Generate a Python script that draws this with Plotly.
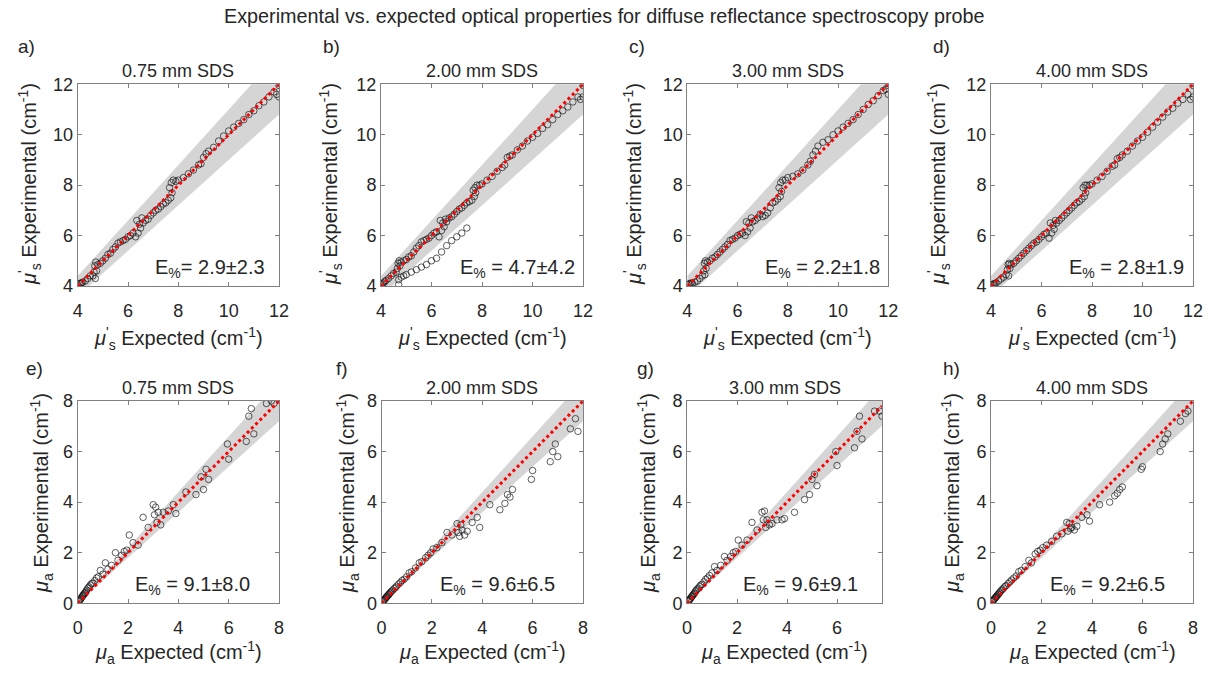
import plotly.graph_objects as go

# ---- data: expected vs experimental optical properties ----
sds_labels = ["0.75 mm SDS", "2.00 mm SDS", "3.00 mm SDS", "4.00 mm SDS"]
panel_letters_top = ["a)", "b)", "c)", "d)"]
panel_letters_bot = ["e)", "f)", "g)", "h)"]
err_mus = ["2.9\u00b12.3", "4.7\u00b14.2", "2.2\u00b11.8", "2.8\u00b11.9"]
err_mua = ["9.1\u00b18.0", "9.6\u00b16.5", "9.6\u00b19.1", "9.2\u00b16.5"]

mus_expected = [4.0, 4.05, 4.1, 4.15, 4.2, 4.3, 4.4, 4.5, 4.6, 4.65, 4.68, 4.7, 4.72, 4.75, 4.8, 4.9,
                5.0, 5.1, 5.2, 5.3, 5.4, 5.5, 5.6, 5.7, 5.8, 5.9, 6.0, 6.1, 6.2, 6.3, 6.35, 6.4,
                6.45, 6.5, 6.55, 6.6, 6.7, 6.8, 6.9, 7.0, 7.1, 7.2, 7.3, 7.4, 7.5, 7.6, 7.65, 7.7,
                7.72, 7.75, 7.8, 7.9, 8.0, 8.2, 8.4, 8.6, 8.8, 8.9, 9.0, 9.1, 9.2, 9.4, 9.6, 9.8,
                10.0, 10.2, 10.4, 10.6, 10.8, 11.0, 11.2, 11.4, 11.6, 11.8, 11.9, 12.0, 12.0]

mus_exp_075 = [4.05, 4.1, 4.1, 4.12, 4.15, 4.2, 4.3, 4.4, 4.4, 4.55, 4.8, 4.3, 4.95, 4.6, 4.85, 4.9,
               5.0, 5.1, 5.25, 5.3, 5.45, 5.55, 5.7, 5.75, 5.8, 5.85, 5.95, 6.0, 6.1, 5.95, 6.6, 6.1,
               6.45, 6.3, 6.7, 6.5, 6.6, 6.65, 6.8, 6.9, 7.0, 7.05, 7.15, 7.25, 7.3, 7.4, 7.9, 7.5,
               8.1, 7.7, 8.2, 8.15, 8.2, 8.3, 8.45, 8.6, 8.8, 8.85, 9.1, 9.25, 9.35, 9.5, 9.75, 9.95,
               10.15, 10.3, 10.45, 10.6, 10.8, 10.95, 11.15, 11.3, 11.5, 11.7, 11.6, 11.95, 11.5]
mus_exp_200 = [4.05, 4.08, 4.12, 4.18, 4.22, 4.3, 4.4, 4.5, 4.55, 4.7, 4.9, 4.05, 5.0, 4.8, 4.95, 5.0,
               5.05, 5.15, 5.2, 5.35, 5.5, 5.6, 5.75, 5.8, 5.85, 5.9, 6.0, 6.1, 6.15, 5.95, 6.6, 6.2,
               6.5, 6.35, 6.65, 6.55, 6.7, 6.75, 6.85, 6.95, 7.05, 7.1, 7.2, 7.3, 7.35, 7.4, 7.8, 7.55,
               7.9, 7.7, 8.0, 8.0, 8.05, 8.2, 8.35, 8.55, 8.7, 8.8, 9.1, 9.15, 9.2, 9.4, 9.55, 9.75,
               9.9, 10.05, 10.25, 10.4, 10.6, 10.8, 10.95, 11.1, 11.3, 11.5, 11.4, 11.95, 11.5]
mus_exp_300 = [4.05, 4.07, 4.1, 4.12, 4.1, 4.15, 4.2, 4.3, 4.4, 4.6, 4.9, 4.45, 5.0, 4.7, 4.95, 5.0,
               5.1, 5.15, 5.25, 5.35, 5.45, 5.55, 5.65, 5.8, 5.85, 5.9, 6.0, 6.05, 6.1, 6.0, 6.55, 6.15,
               6.5, 6.3, 6.7, 6.55, 6.6, 6.7, 6.85, 6.75, 6.8, 6.9, 7.1, 7.3, 7.35, 7.45, 7.9, 7.55,
               8.1, 7.75, 8.2, 8.2, 8.3, 8.35, 8.45, 8.6, 8.8, 8.95, 9.2, 9.35, 9.55, 9.7, 9.8, 10.0,
               10.15, 10.3, 10.45, 10.6, 10.8, 11.0, 11.2, 11.35, 11.55, 11.75, 11.8, 11.95, 11.6]
mus_exp_400 = [4.05, 4.05, 4.08, 4.1, 4.12, 4.2, 4.28, 4.35, 4.45, 4.65, 4.85, 4.4, 4.9, 4.7, 4.85, 4.9,
               5.0, 5.1, 5.2, 5.3, 5.4, 5.5, 5.6, 5.7, 5.75, 5.85, 5.95, 6.05, 6.1, 5.9, 6.5, 6.1,
               6.4, 6.25, 6.6, 6.5, 6.6, 6.7, 6.8, 6.9, 7.0, 7.1, 7.2, 7.3, 7.35, 7.45, 7.9, 7.55,
               8.0, 7.7, 8.0, 8.0, 8.05, 8.2, 8.35, 8.55, 8.75, 8.8, 9.05, 9.1, 9.2, 9.35, 9.55, 9.75,
               9.9, 10.1, 10.3, 10.5, 10.7, 10.9, 11.05, 11.25, 11.4, 11.6, 11.4, 11.95, 11.5]

# the 2.00 mm probe has a separate low branch of points
mus_expected_200_low = [4.7, 4.8, 4.9, 5.0, 5.2, 5.4, 5.6, 5.8, 6.0, 6.2, 6.4, 6.6, 6.8, 7.0, 7.2, 7.4]
mus_exp_200_low = [4.25, 4.35, 4.4, 4.45, 4.55, 4.65, 4.75, 4.85, 5.0, 5.1, 5.35, 5.6, 5.8, 5.95, 6.1, 6.3]

mua_expected = [0.05, 0.08, 0.1, 0.12, 0.15, 0.18, 0.2, 0.22, 0.25, 0.28, 0.3, 0.33, 0.36, 0.4, 0.45,
                0.5, 0.55, 0.6, 0.68, 0.75, 0.82, 0.9, 1.0, 1.1, 1.2, 1.35, 1.5, 1.6, 1.75, 1.85,
                1.95, 2.05, 2.2, 2.4, 2.6, 2.8, 3.0, 3.05, 3.1, 3.15, 3.2, 3.3, 3.4, 3.6, 3.8,
                3.9, 4.3, 4.7, 4.9, 5.0, 5.1, 5.2, 5.95, 6.0, 6.7, 6.8, 6.9, 7.0, 7.5, 7.7, 7.8]

mua_exp_075 = [0.08, 0.12, 0.15, 0.18, 0.22, 0.26, 0.3, 0.33, 0.36, 0.4, 0.42, 0.48, 0.52, 0.6, 0.65,
               0.72, 0.78, 0.8, 0.9, 1.0, 1.05, 1.3, 1.15, 1.6, 1.35, 1.5, 2.0, 1.7, 1.9, 2.05,
               2.1, 2.7, 2.4, 2.3, 3.4, 3.0, 3.9, 3.5, 3.8, 3.2, 3.6, 3.1, 3.6, 3.65, 3.9,
               3.55, 4.4, 4.3, 5.0, 4.5, 5.3, 4.9, 6.3, 5.7, 6.4, 7.4, 7.7, 6.7, 7.9, 8.0, 7.9]
mua_exp_200 = [0.07, 0.1, 0.13, 0.15, 0.19, 0.22, 0.25, 0.28, 0.3, 0.34, 0.36, 0.4, 0.44, 0.48, 0.52,
               0.58, 0.62, 0.68, 0.76, 0.82, 0.9, 0.95, 1.05, 1.2, 1.25, 1.4, 1.6, 1.65, 1.8, 1.9,
               2.0, 2.15, 2.2, 2.4, 2.8, 2.7, 3.15, 2.8, 2.65, 3.1, 2.9, 2.7, 2.85, 3.2, 3.4,
               3.0, 3.9, 3.7, 3.95, 4.3, 4.2, 4.5, 4.9, 5.25, 5.6, 6.0, 6.3, 5.8, 6.9, 7.3, 6.8]
mua_exp_300 = [0.08, 0.11, 0.14, 0.17, 0.2, 0.25, 0.28, 0.3, 0.34, 0.38, 0.4, 0.46, 0.5, 0.55, 0.6,
               0.66, 0.72, 0.75, 0.85, 0.95, 1.0, 1.1, 1.2, 1.45, 1.3, 1.5, 1.85, 1.7, 1.85, 2.0,
               2.05, 2.5, 2.3, 2.5, 3.2, 2.9, 3.6, 3.3, 3.65, 3.0, 3.3, 3.1, 3.15, 3.3, 3.3,
               3.35, 3.6, 4.1, 4.3, 4.9, 5.1, 4.65, 6.0, 5.45, 6.15, 6.8, 7.4, 6.5, 7.6, 7.6, 7.4]
mua_exp_400 = [0.07, 0.1, 0.13, 0.16, 0.19, 0.23, 0.25, 0.28, 0.31, 0.35, 0.37, 0.41, 0.45, 0.5, 0.55,
               0.6, 0.66, 0.7, 0.78, 0.85, 0.92, 1.0, 1.08, 1.25, 1.3, 1.45, 1.7, 1.6, 1.95, 2.05,
               2.1, 2.2, 2.3, 2.45, 2.65, 2.75, 3.2, 2.85, 3.15, 2.95, 3.0, 2.9, 3.05, 3.4, 3.5,
               3.25, 3.9, 4.0, 4.25, 4.35, 4.5, 4.6, 5.3, 5.4, 6.0, 6.3, 6.5, 6.7, 7.2, 7.5, 7.6]

mus_series = [mus_exp_075, mus_exp_200, mus_exp_300, mus_exp_400]
mua_series = [mua_exp_075, mua_exp_200, mua_exp_300, mua_exp_400]

mus_range = [4, 12]
mua_ranges = [[0, 8], [0, 8], [0, 7.8], [0, 8]]
band_frac = 0.10

# ---- layout geometry (pixels) ----
W, H = 1210, 674
col_x = [(77.7, 279), (381, 583), (687.3, 888.3), (991, 1193)]
col_x_bot = [(77.7, 279), (381.5, 583), (687, 882), (991, 1193)]
row_top = (84.3, 286)
row_bot = (401, 603.3)

FONT = "Liberation Sans, Arial, sans-serif"
TXT = "#262626"
AXC = "#808080"

fig = go.Figure()
annotations = []


def add_panel(idx, xs, ys, rng_x, rng_y, xpix, ypix, extra=None):
    ax = "" if idx == 1 else str(idx)
    xa, ya = "x" + ax, "y" + ax
    lo, hi = rng_x
    # +/- 10 % band around identity
    fig.add_trace(go.Scatter(
        x=[lo, hi, hi, lo], y=[lo * (1 + band_frac), hi * (1 + band_frac), hi * (1 - band_frac), lo * (1 - band_frac)],
        fill="toself", fillcolor="#d5d5d5", line=dict(width=0), mode="lines",
        hoverinfo="skip", showlegend=False, xaxis=xa, yaxis=ya))
    sets = [(xs, ys)] + ([extra] if extra else [])
    for sx, sy in sets:
        fig.add_trace(go.Scatter(
            x=sx, y=sy, mode="markers",
            marker=dict(symbol="circle-open", size=6.5, color="rgba(20,20,20,0.85)", line=dict(width=0.8)),
            showlegend=False, xaxis=xa, yaxis=ya))
    fig.add_trace(go.Scatter(
        x=[lo, hi], y=[lo, hi], mode="lines",
        line=dict(color="#ff0000", width=3, dash="dot"),
        showlegend=False, xaxis=xa, yaxis=ya))
    common = dict(showline=True, mirror="ticks", linecolor=AXC, linewidth=1,
                  ticks="inside", ticklen=4, tickcolor=AXC, showgrid=False, zeroline=False,
                  automargin=False, tickfont=dict(family=FONT, size=18, color=TXT), fixedrange=True)
    fig.layout["xaxis" + ax] = dict(domain=[xpix[0] / W, xpix[1] / W], range=rng_x, anchor=ya,
                                   dtick=2, ticklabelstandoff=8, **common)
    fig.layout["yaxis" + ax] = dict(domain=[1 - ypix[1] / H, 1 - ypix[0] / H], range=rng_y, anchor=xa,
                                   dtick=2, ticklabelstandoff=0, **common)


for i in range(4):
    extra = (mus_expected_200_low, mus_exp_200_low) if i == 1 else None
    add_panel(i + 1, mus_expected, mus_series[i], mus_range, mus_range, col_x[i], row_top, extra)
    add_panel(i + 5, mua_expected, mua_series[i], mua_ranges[i], [0, 8], col_x_bot[i], row_bot)


def ann(text, px, py, size, angle=0, xanchor="center"):
    annotations.append(dict(text=text, x=px / W, y=1 - py / H, xref="paper", yref="paper",
                            showarrow=False, textangle=angle, xanchor=xanchor, yanchor="middle",
                            font=dict(family=FONT, size=size, color=TXT)))


mus_lbl = "<i>\u03bc</i><sup>'</sup><sub>s</sub>"
mua_lbl = "<i>\u03bc</i><sub>a</sub>"
letter_top_x = [26, 331, 637, 941]
letter_bot_x = [34, 342, 645, 951]
ytitle_top_x = [29, 330, 634, 938]
ytitle_bot_x = [41, 347, 648, 952]
err_right_top = [267, 577, 882, 1186]
err_right_bot = [252, 557, 860, 1167]

for i in range(4):
    cx_t = (col_x[i][0] + col_x[i][1]) / 2
    cx_b = (col_x_bot[i][0] + col_x_bot[i][1]) / 2
    ann(sds_labels[i], cx_t, 71, 18)
    ann(sds_labels[i], cx_b, 388, 18)
    ann(panel_letters_top[i], letter_top_x[i], 46, 19)
    ann(panel_letters_bot[i], letter_bot_x[i], 368, 19)
    ann(mus_lbl + " Experimental (cm<sup>-1</sup>)", ytitle_top_x[i], 184, 20, angle=-90)
    ann(mua_lbl + " Experimental (cm<sup>-1</sup>)", ytitle_bot_x[i], 493, 20, angle=-90)
    ann(mus_lbl + " Expected (cm<sup>-1</sup>)", cx_t, 338, 20)
    ann(mua_lbl + " Expected (cm<sup>-1</sup>)", cx_b, 652, 20)
    sep_top = "E<sub>%</sub>" + ("" if i == 0 else " ") + "= " + err_mus[i]
    ann(sep_top, err_right_top[i], 268, 20, xanchor="right")
    ann("E<sub>%</sub> = " + err_mua[i], err_right_bot[i], 585, 20, xanchor="right")

ann("Experimental vs. expected optical properties for diffuse reflectance spectroscopy probe",
    604, 16, 19.8)

fig.update_layout(
    template="none",
    width=W, height=H, margin=dict(l=0, r=0, t=0, b=0, pad=0),
    paper_bgcolor="white", plot_bgcolor="white",
    annotations=annotations, showlegend=False,
    font=dict(family=FONT, color=TXT),
)
# drop the browser's default 8px body margin so the figure sits at the page origin
fig.write_html("out.html", config={"displayModeBar": False},
               post_script="document.body.style.margin='0px';")
